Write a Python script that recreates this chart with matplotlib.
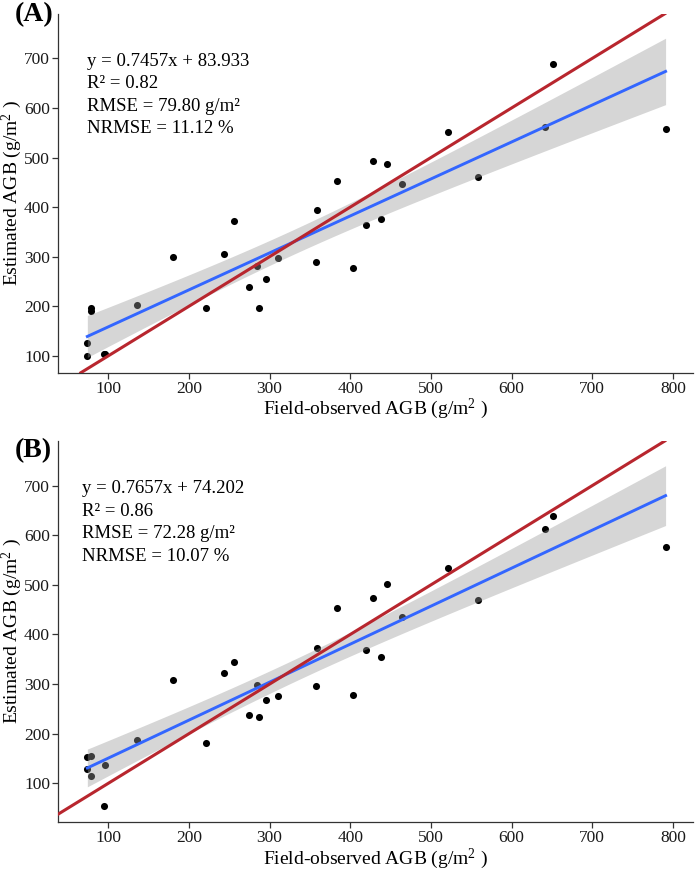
import numpy as np
import matplotlib
matplotlib.use("Agg")
import matplotlib.pyplot as plt

# field-observed AGB (same samples in both panels)
observed = [74, 74, 79, 79, 95, 96, 135, 180, 221, 243, 256, 275, 284, 287, 296,
            310, 358, 358.5, 384, 404, 419, 428, 438, 445, 464, 521, 558, 642, 652, 791]
# estimated AGB, model A
estimated_a = [126, 99, 197, 191, 103, 103, 203, 300, 196, 306, 373, 238, 282, 197, 255,
               298, 290, 394, 452, 277, 364, 494, 376, 488, 447, 551, 460, 562, 689, 558]
# estimated AGB, model B
estimated_b = [153, 129, 156, 115, 54, 136, 187, 308, 181, 322, 345, 237, 299, 234, 267,
               275, 296, 373, 453, 279, 369, 474, 355, 501, 435, 534, 469, 612, 639, 577]

slope_a, intercept_a = 0.7457, 83.933
slope_b, intercept_b = 0.7657, 74.202

stats_a = ["y = 0.7457x + 83.933", "R² = 0.82", "RMSE = 79.80 g/m²", "NRMSE = 11.12 %"]
stats_b = ["y = 0.7657x + 74.202", "R² = 0.86", "RMSE = 72.28 g/m²", "NRMSE = 10.07 %"]

plt.rcParams['font.family'] = ['Liberation Serif', 'DejaVu Serif']
plt.rcParams['mathtext.fontset'] = 'custom'
plt.rcParams['mathtext.rm'] = 'Liberation Serif'
plt.rcParams['mathtext.it'] = 'Liberation Serif:italic'

W, H = 696, 869
fig = plt.figure(figsize=(W / 100, H / 100), dpi=100)


def px_axes(left, top, right, bottom):
    return fig.add_axes([left / W, 1 - bottom / H, (right - left) / W, (bottom - top) / H])


def panel(ax, x, y, slope, intercept, ylim):
    x = np.array(x, dtype=float)
    y = np.array(y, dtype=float)
    n = len(x)
    ax.scatter(x, y, s=26, color='black', zorder=2, linewidths=0)

    # regression line + 95% confidence band
    xs = np.linspace(x.min(), x.max(), 200)
    fit = slope * xs + intercept
    resid = y - (slope * x + intercept)
    s = np.sqrt(np.sum(resid ** 2) / (n - 2))
    sxx = np.sum((x - x.mean()) ** 2)
    se = s * np.sqrt(1 / n + (xs - x.mean()) ** 2 / sxx)
    t = 2.048
    ax.fill_between(xs, fit - t * se, fit + t * se, color='#999999', alpha=0.4,
                    linewidth=0, zorder=3)
    ax.plot(xs, fit, color='#3366FF', lw=2.1, zorder=4)
    ax.axline((0, 0), slope=1, color='#B8262E', lw=2.2, zorder=5)

    ax.set_xlim(38, 825)
    ax.set_ylim(*ylim)
    ax.set_xticks([100, 200, 300, 400, 500, 600, 700, 800])
    ax.set_yticks([100, 200, 300, 400, 500, 600, 700])
    for side in ['top', 'right']:
        ax.spines[side].set_visible(False)
    for side in ['left', 'bottom']:
        ax.spines[side].set_color('#333333')
        ax.spines[side].set_linewidth(0.9)
    ax.tick_params(length=4, width=0.9, color='#333333', labelsize=12.5,
                   labelcolor='#1a1a1a', pad=2)
    ax.set_xlabel(r'Field-observed AGB (g/m$^2$ )', fontsize=14, labelpad=0)
    ax.set_ylabel(r'Estimated AGB (g/m$^2$ )', fontsize=14, labelpad=0)


ax1 = px_axes(58.3, 13.8, 693, 372.7)
panel(ax1, observed, estimated_a, slope_a, intercept_a, (66, 790))
ax2 = px_axes(58.3, 441, 693, 822)
panel(ax2, observed, estimated_b, slope_b, intercept_b, (22, 790))

for i, line in enumerate(stats_a):
    fig.text(87 / W, 1 - (61.7 + 22.2 * i) / H, line, fontsize=13.5, va='center', ha='left')
for i, line in enumerate(stats_b):
    fig.text(82 / W, 1 - (488.3 + 22.8 * i) / H, line, fontsize=13.5, va='center', ha='left')

fig.text(15 / W, 1 - 15 / H, '(A)', fontsize=20, fontweight='bold', va='center', ha='left')
fig.text(15 / W, 1 - 451 / H, '(B)', fontsize=20, fontweight='bold', va='center', ha='left')

fig.savefig('out.png', dpi=100)
